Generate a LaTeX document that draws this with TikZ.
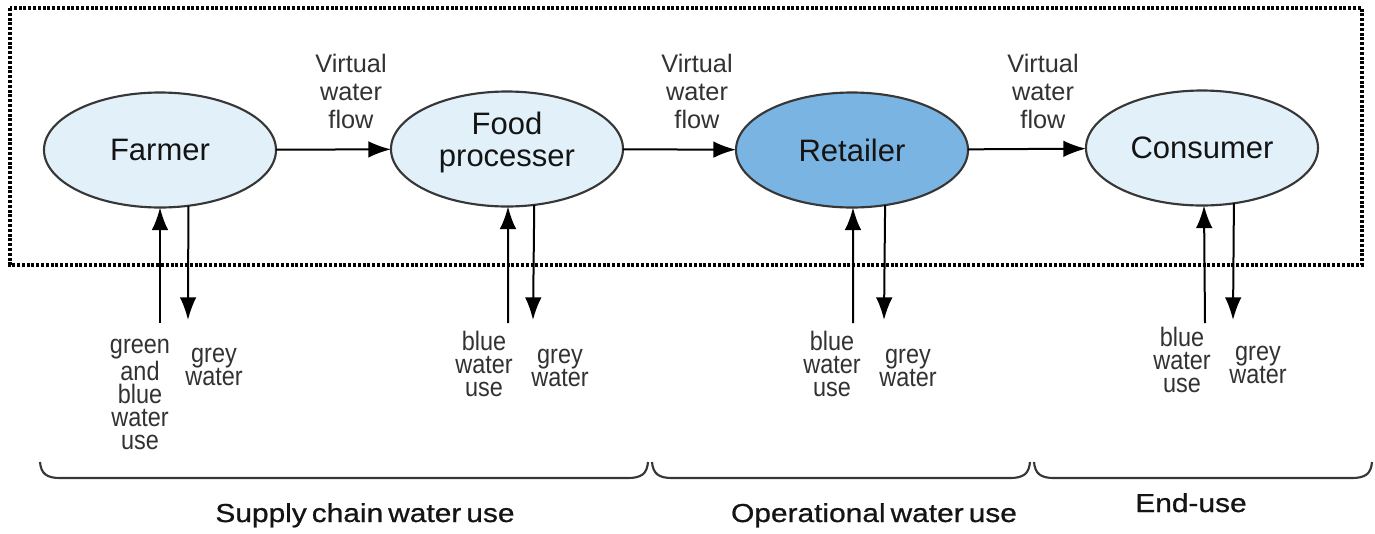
\documentclass[tikz,border=0pt]{standalone}
\usepackage{fontspec}
\setmainfont{Liberation Sans}
\newfontfamily\stagefont{Liberation Sans}
\newfontfamily\wateruse[FakeStretch=0.88]{Liberation Sans}
\newfontfamily\groupfont[FakeStretch=1.15,WordSpace=0.6,FakeBold=0.8]{Liberation Sans}
\usetikzlibrary{shapes.geometric,arrows.meta}

\definecolor{paleblue}{RGB}{226,240,250}
\definecolor{midblue}{RGB}{122,180,226}
\definecolor{edgegray}{RGB}{55,55,55}
\definecolor{labelgray}{RGB}{50,50,50}
\definecolor{inkdark}{RGB}{20,20,20}

\tikzset{
  stage/.style={ellipse, draw=edgegray, line width=1.6pt, fill=paleblue,
    minimum width=174pt, minimum height=86.25pt, inner sep=0pt, outer sep=0pt,
    align=center, text=inkdark,
    font=\stagefont\fontsize{23.25pt}{24pt}\selectfont},
  flow/.style={-{Latex[length=17pt,width=12.5pt]}, line width=1.5pt, draw=black},
  flowlabel/.style={align=center, inner sep=0pt, anchor=base, text=labelgray,
    font=\stagefont\fontsize{19pt}{21pt}\selectfont},
  uselabel/.style={align=center, inner sep=0pt, anchor=base, text=labelgray,
    font=\wateruse\fontsize{20pt}{17.25pt}\selectfont},
  bracket/.style={line width=1.6pt, draw=edgegray},
  grouplabel/.style={inner sep=0pt, anchor=base, text=inkdark,
    font=\groupfont\fontsize{19.5pt}{22pt}\selectfont},
  boundary/.style={draw=black, line width=2.3pt, dash pattern=on 2.2pt off 1.4pt}
}

\begin{document}
\begin{tikzpicture}[x=0.75pt, y=-0.75pt]
\useasboundingbox (0,0) rectangle (1375,533);

% dotted frame around the chain
\draw[boundary] (10,8) rectangle (1362,265);

% the four stages
\node[stage] (farmer)   at (160,150)  {Farmer};
\node[stage, text depth=14pt] (food) at (507,149) {Food\\processer};
\node[stage, fill=midblue] (retailer) at (852,150) {Retailer};
\node[stage] (consumer) at (1202,148) {Consumer};

% virtual water passed along the chain
\draw[flow] (farmer) -- (food);
\draw[flow] (food) -- (retailer);
\draw[flow] (retailer) -- (consumer);

% (multi-line labels are placed by the baseline of their last line)
\node[flowlabel] (vw1) at (351,128)  {Virtual\\water\\flow};
\node[flowlabel] (vw2) at (697,128)  {Virtual\\water\\flow};
\node[flowlabel] (vw3) at (1043,128) {Virtual\\water\\flow};

% water taken in and released at each stage
\coordinate (farmerIn)    at (160,323);
\coordinate (farmerOut)   at (188,320);
\coordinate (foodIn)      at (508,323);
\coordinate (foodOut)     at (533,320);
\coordinate (retailerIn)  at (853,323);
\coordinate (retailerOut) at (884,320);
\coordinate (consumerIn)  at (1205,323);
\coordinate (consumerOut) at (1233,320);

\draw[flow] (farmerIn) -- (farmer.-90);
\draw[flow] (farmer.-63.4) -- (farmerOut);
\draw[flow] (foodIn) -- (food.-89.5);
\draw[flow] (food.-64.9) -- (foodOut);
\draw[flow] (retailerIn) -- (retailer.-89.5);
\draw[flow] (retailer.-59.9) -- (retailerOut);
\draw[flow] (consumerIn) -- (consumer.-88.5);
\draw[flow] (consumer.-60.8) -- (consumerOut);

\node[uselabel] (farmerUse)    at (140,449)  {green\\and\\blue\\water\\use};
\node[uselabel] (farmerGrey)   at (214,385)  {grey\\water};
\node[uselabel] (foodUse)      at (484,396)  {blue\\water\\use};
\node[uselabel] (foodGrey)     at (560,386)  {grey\\water};
\node[uselabel] (retailerUse)  at (832,396)  {blue\\water\\use};
\node[uselabel] (retailerGrey) at (908,386)  {grey\\water};
\node[uselabel] (consumerUse)  at (1182,392) {blue\\water\\use};
\node[uselabel] (consumerGrey) at (1258,383) {grey\\water};

% brackets grouping the stages
\draw[bracket] (40,462) .. controls (41,474) and (47,478) .. (60,478)
  -- (628,478) .. controls (641,478) and (647,474) .. (648,462);
\draw[bracket] (652,462) .. controls (653,474) and (659,478) .. (672,478)
  -- (1010,478) .. controls (1023,478) and (1029,474) .. (1030,462);
\draw[bracket] (1034,462) .. controls (1035,474) and (1041,478) .. (1054,478)
  -- (1352,478) .. controls (1365,478) and (1371,474) .. (1372,462);

\node[grouplabel] (supply) at (365,522) {Supply chain water use};
\node[grouplabel] (oper)   at (874,522) {Operational water use};
\node[grouplabel] (enduse) at (1191,512) {End-use};
\end{tikzpicture}
\end{document}
